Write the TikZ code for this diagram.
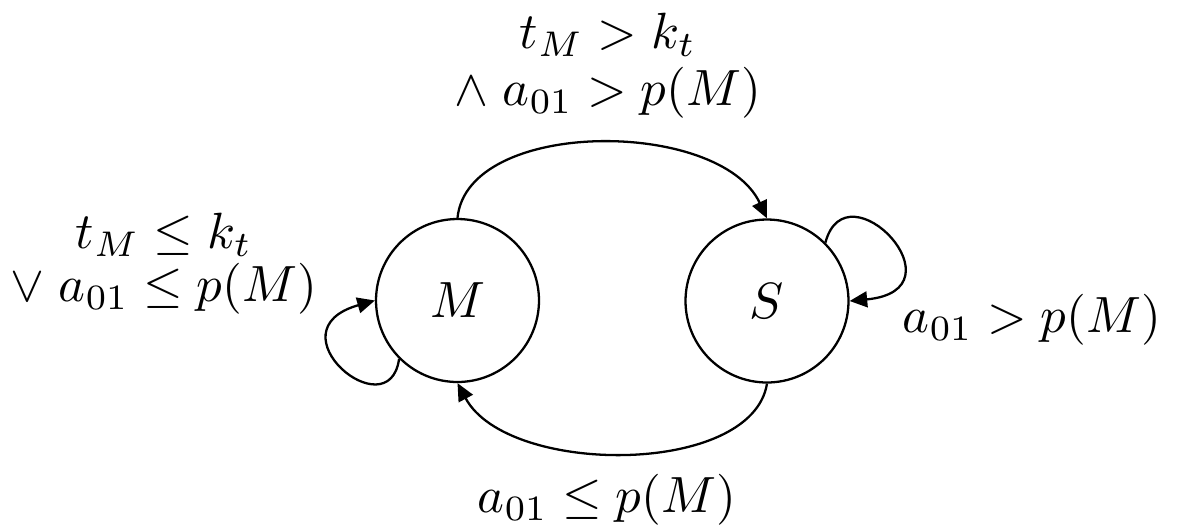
\documentclass[tikz,border=0pt]{standalone}
\usepackage{graphicx}
\usetikzlibrary{arrows.meta}
\newcommand{\BigMath}[1]{\scalebox{2.9}{$#1$}}
\begin{document}
\begin{tikzpicture}[x=0.02cm,y=-0.02cm,
  state/.style={circle,draw,line width=1.3pt,minimum size=3.26cm,inner sep=0pt},
  lbl/.style={inner sep=0pt},
  edge/.style={line width=1.3pt,-{Triangle[length=10pt,width=9pt]}}]
\useasboundingbox (0,0) rectangle (1177,529);
\node[state] (M) at (457.5,300.5) {\BigMath{M}};
\node[state] (S) at (767,301) {\BigMath{S}};
\draw[edge] (M.north) .. controls +(10,-100) and +(-47,-100) .. (S.north);
\draw[edge] (S.south) .. controls +(-15,93) and +(50,93) .. (M.south);
\draw[edge] (M.225) .. controls +(-10,72) and +(-106,30) .. (M.west);
\draw[edge] (S.45) .. controls +(21,-79) and +(117,-11) .. (S.east);
\node[lbl] (top) at (608,66) {\begin{tabular}{@{}c@{}}\BigMath{t_M > k_t}\\[7pt]\BigMath{\mathord{\wedge}\;a_{01} > p(M)}\end{tabular}};
\node[lbl] (left) at (164,264) {\begin{tabular}{@{}c@{}}\BigMath{t_M \le k_t}\\[5pt]\BigMath{\mathord{\vee}\;a_{01} \le p(M)}\end{tabular}};
\node[lbl] (right) at (1032,320) {\BigMath{a_{01} > p(M)}};
\node[lbl] (bot) at (607,500) {\BigMath{a_{01} \le p(M)}};
\end{tikzpicture}
\end{document}
